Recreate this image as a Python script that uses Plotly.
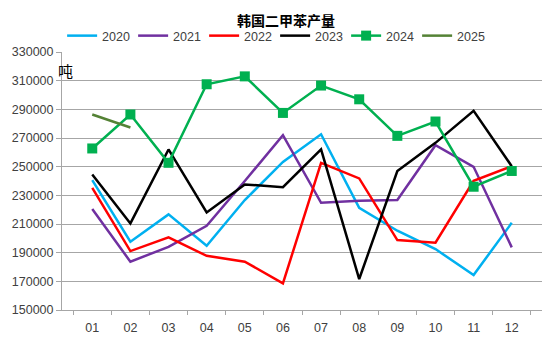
import plotly.graph_objects as go

# 月份
months = ["01", "02", "03", "04", "05", "06", "07", "08", "09", "10", "11", "12"]

# 韩国二甲苯月度产量（吨）
y2020 = [240600, 197600, 216700, 194800, 226700, 253300, 272600, 221300, 205300, 192500, 174400, 210800]
y2021 = [220400, 183700, 194100, 208700, 240000, 272000, 224800, 226200, 226700, 265000, 249900, 193700]
y2022 = [235200, 191100, 200700, 187800, 183700, 168600, 252600, 241800, 198800, 196900, 240100, 250300]
y2023 = [244600, 210400, 262000, 218100, 237600, 235700, 262000, 171600, 246900, 266600, 288900, 250300]
y2024 = [262700, 286400, 252700, 307500, 313000, 287500, 306600, 297000, 271500, 281500, 236000, 247000]
y2025 = [286400, 277300]

y_ticks = list(range(150000, 330001, 20000))

series = [
    ("2020", y2020, "#00B0F0", False),
    ("2021", y2021, "#7030A0", False),
    ("2022", y2022, "#FF0000", False),
    ("2023", y2023, "#000000", False),
    ("2024", y2024, "#00B050", True),
    ("2025", y2025, "#548235", False),
]

fig = go.Figure()
for name, vals, color, with_marker in series:
    fig.add_trace(go.Scatter(
        x=months[:len(vals)],
        y=vals,
        name=name,
        mode="lines+markers" if with_marker else "lines",
        line=dict(color=color, width=2.5),
        marker=dict(symbol="square", size=10, color=color),
    ))

font_main = "Liberation Sans, Arial, sans-serif"

fig.update_layout(
    width=550,
    height=344,
    margin=dict(l=62, r=8, t=52, b=34),
    paper_bgcolor="white",
    plot_bgcolor="white",
    font=dict(family=font_main, size=12.5, color="#404040"),
    title=dict(
        text="<b>韩国二甲苯产量</b>",
        font=dict(family="Noto Sans CJK SC", size=14, color="#000000"),
        x=0.52, xref="container", xanchor="center",
        y=1 - 21 / 344, yref="container", yanchor="middle",
    ),
    legend=dict(
        orientation="h",
        x=0.444, xanchor="center",
        y=1.062, yanchor="middle",
        font=dict(family=font_main, size=12.5, color="#404040"),
        itemwidth=30,
        entrywidth=26,
        entrywidthmode="pixels",
        bgcolor="rgba(0,0,0,0)",
    ),
    showlegend=True,
)

fig.update_xaxes(
    type="category",
    tickson="boundaries",
    ticks="outside",
    ticklen=4,
    tickcolor="#A6A6A6",
    ticklabelstandoff=6,
    showgrid=False,
    showline=True,
    linecolor="#A6A6A6",
    linewidth=1,
    tickfont=dict(family=font_main, size=12.5, color="#404040"),
)

fig.update_yaxes(
    range=[150000, 330000],
    tickvals=y_ticks,
    ticktext=[str(v) for v in y_ticks],
    ticks="outside",
    ticklen=5,
    tickcolor="#A6A6A6",
    showgrid=True,
    gridcolor="#A6A6A6",
    gridwidth=1,
    showline=True,
    linecolor="#A6A6A6",
    linewidth=1,
    zeroline=False,
    tickfont=dict(family=font_main, size=12.5, color="#404040"),
)

fig.add_annotation(
    text="吨",
    xref="paper", yref="paper",
    x=0.0, y=1.0,
    xanchor="left", yanchor="top",
    xshift=-6, yshift=-6,
    showarrow=False,
    font=dict(family="Noto Sans CJK SC", size=15, color="#000000"),
)

fig.write_html("out.html")
